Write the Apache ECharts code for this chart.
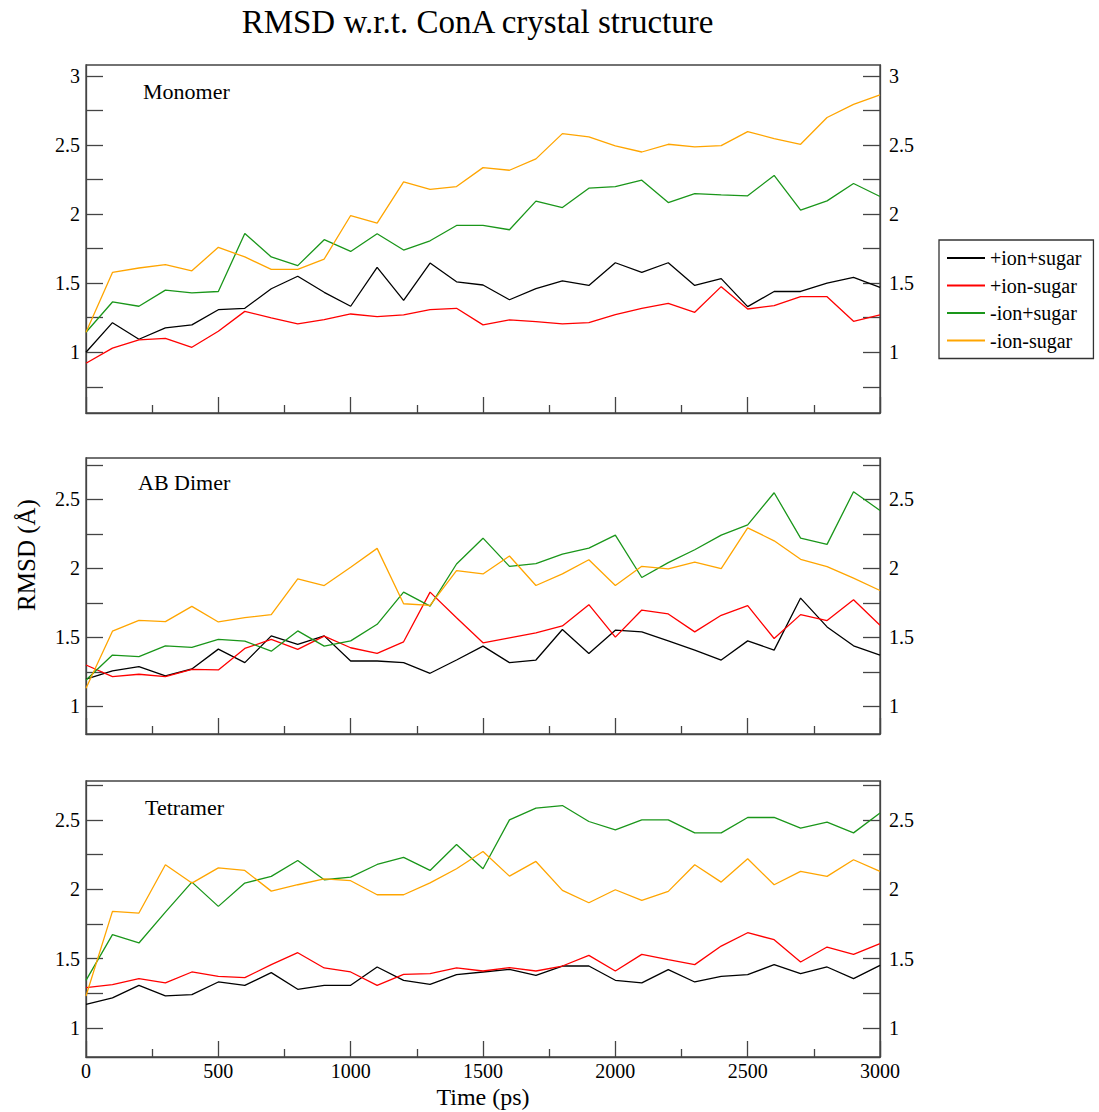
<!DOCTYPE html>
<html>
<head>
<meta charset="utf-8">
<script src="https://cdn.jsdelivr.net/npm/echarts@6/dist/echarts.min.js"></script>
<style>
html,body{margin:0;padding:0;background:#fff;}
#chart{width:1099px;height:1112px;}
</style>
</head>
<body>
<div id="chart"></div>
<script>
// ---- data ----
const time = [0,100,200,300,400,500,600,700,800,900,1000,1100,1200,1300,1400,1500,1600,1700,1800,1900,2000,2100,2200,2300,2400,2500,2600,2700,2800,2900,3000];
const seriesNames = ['+ion+sugar','+ion-sugar','-ion+sugar','-ion-sugar'];
const panelNames = ['Monomer','AB Dimer','Tetramer'];

const monomerIonSugar   = [1.0,1.214,1.094,1.176,1.198,1.308,1.318,1.46,1.55,1.434,1.333,1.614,1.376,1.646,1.51,1.487,1.38,1.46,1.516,1.484,1.648,1.578,1.648,1.484,1.533,1.33,1.44,1.44,1.50,1.542,1.47];
const monomerIonNoSugar = [0.92,1.03,1.09,1.10,1.036,1.152,1.296,1.248,1.205,1.236,1.277,1.258,1.27,1.308,1.318,1.198,1.234,1.222,1.205,1.214,1.272,1.318,1.354,1.289,1.475,1.313,1.337,1.402,1.402,1.224,1.27];
const monomerNoIonSugar = [1.145,1.364,1.333,1.45,1.43,1.44,1.86,1.69,1.627,1.815,1.73,1.858,1.74,1.807,1.918,1.918,1.887,2.094,2.048,2.188,2.20,2.246,2.084,2.149,2.14,2.133,2.28,2.029,2.096,2.222,2.128];
const monomerNoIonNoSugar = [1.145,1.578,1.61,1.634,1.59,1.76,1.69,1.60,1.60,1.675,1.99,1.935,2.234,2.18,2.20,2.337,2.318,2.40,2.583,2.56,2.494,2.45,2.506,2.487,2.496,2.598,2.547,2.506,2.70,2.795,2.863];

const dimerIonSugar   = [1.197,1.257,1.288,1.221,1.271,1.415,1.317,1.511,1.449,1.511,1.329,1.329,1.317,1.24,1.336,1.437,1.317,1.336,1.557,1.384,1.552,1.54,1.475,1.408,1.336,1.475,1.408,1.785,1.576,1.439,1.372];
const dimerIonNoSugar = [1.30,1.216,1.233,1.216,1.269,1.264,1.42,1.485,1.413,1.509,1.425,1.384,1.468,1.828,1.643,1.461,1.497,1.533,1.583,1.737,1.502,1.698,1.67,1.54,1.66,1.73,1.492,1.665,1.622,1.773,1.588];
const dimerNoIonSugar = [1.192,1.372,1.36,1.439,1.427,1.485,1.473,1.40,1.547,1.437,1.475,1.595,1.828,1.727,2.032,2.219,2.015,2.034,2.104,2.147,2.241,1.934,2.042,2.135,2.241,2.315,2.548,2.219,2.174,2.555,2.42];
const dimerNoIonNoSugar = [1.132,1.545,1.624,1.614,1.725,1.612,1.643,1.665,1.924,1.876,2.008,2.145,1.744,1.732,1.984,1.96,2.09,1.876,1.96,2.063,1.876,2.015,1.996,2.046,1.998,2.294,2.2,2.066,2.013,1.929,1.84];

const tetramerIonSugar   = [1.17,1.216,1.307,1.23,1.24,1.331,1.307,1.398,1.278,1.307,1.307,1.439,1.343,1.314,1.384,1.403,1.422,1.379,1.446,1.446,1.343,1.324,1.42,1.331,1.372,1.384,1.456,1.391,1.439,1.355,1.451];
const tetramerIonNoSugar = [1.29,1.312,1.355,1.324,1.403,1.372,1.362,1.456,1.542,1.432,1.403,1.307,1.386,1.391,1.432,1.41,1.434,1.41,1.446,1.523,1.41,1.53,1.492,1.456,1.59,1.686,1.636,1.475,1.583,1.53,1.607];
const tetramerNoIonSugar = [1.343,1.672,1.612,1.835,2.051,1.876,2.044,2.092,2.207,2.068,2.087,2.178,2.229,2.135,2.322,2.147,2.50,2.584,2.603,2.488,2.428,2.50,2.50,2.406,2.406,2.517,2.517,2.44,2.483,2.406,2.55];
const tetramerNoIonNoSugar = [1.23,1.84,1.828,2.176,2.044,2.154,2.135,1.986,2.032,2.075,2.061,1.96,1.96,2.046,2.147,2.272,2.094,2.20,1.991,1.902,1.996,1.919,1.984,2.176,2.051,2.219,2.032,2.128,2.092,2.212,2.128];

const monomerTicks = [0.75,1,1.25,1.5,1.75,2,2.25,2.5,2.75,3];
const monomerLabels = [1,1.5,2,2.5,3];
const lowerTicks = [1,1.25,1.5,1.75,2,2.25,2.5,2.75];
const lowerLabels = [1,1.5,2,2.5];
const xTickLabels = [0,500,1000,1500,2000,2500,3000];

// ---- layout / style ----
const FONT = 'Liberation Serif';
const colors = ['#000000','#ff0000','#1a961a','#ffa500'];
const panels = [
  {data:[monomerIonSugar,monomerIonNoSugar,monomerNoIonSugar,monomerNoIonNoSugar], top:65, height:348, min:0.56, max:3.08, ticks:monomerTicks, labels:monomerLabels, labelY:92},
  {data:[dimerIonSugar,dimerIonNoSugar,dimerNoIonSugar,dimerNoIonNoSugar], top:458, height:276, min:0.8, max:2.8, ticks:lowerTicks, labels:lowerLabels, labelY:483},
  {data:[tetramerIonSugar,tetramerIonNoSugar,tetramerNoIonSugar,tetramerNoIonNoSugar], top:781, height:276, min:0.79, max:2.78, ticks:lowerTicks, labels:lowerLabels, labelY:808}
];
const labelX = [143,138,145];
const plain = v => String(v);

const grids = [], xAxes = [], yAxes = [], series = [], graphics = [];
panels.forEach((p, i) => {
  grids.push({left:86, top:p.top, width:794, height:p.height, show:true, borderColor:'#444', borderWidth:1.3, backgroundColor:'transparent', containLabel:false});
  xAxes.push({
    type:'value', gridIndex:i, min:0, max:3000, interval:500,
    axisLine:{show:true, lineStyle:{color:'#444', width:1.3}},
    axisTick:{show:true, inside:true, length:16, lineStyle:{color:'#444', width:1.3}},
    minorTick:{show:true, splitNumber:2, length:8, lineStyle:{color:'#444', width:1.3}},
    axisLabel:{show:i===2, margin:4, fontFamily:FONT, fontSize:20, color:'#000', customValues: xTickLabels, formatter: plain},
    splitLine:{show:false}, minorSplitLine:{show:false}
  });
  ['left','right'].forEach(pos => {
    yAxes.push({
      type:'value', gridIndex:i, position:pos, min:p.min, max:p.max,
      axisLine:{show:true, lineStyle:{color:'#444', width:1.3}},
      axisTick:{show:true, inside:true, length:17, customValues:p.ticks, lineStyle:{color:'#444', width:1.3}},
      axisLabel:{show:true, margin: pos==='left'?6:9, customValues:p.labels, fontFamily:FONT, fontSize:20, color:'#000', formatter: plain},
      splitLine:{show:false}
    });
  });
  p.data.forEach((arr, j) => {
    series.push({
      type:'line', name:seriesNames[j], xAxisIndex:i, yAxisIndex:i*2,
      data: time.map((t,k)=>[t, arr[k]]),
      symbol:'none', showSymbol:false, silent:true, animation:false,
      lineStyle:{color:colors[j], width:1.3}, itemStyle:{color:colors[j]}, z: 2 + j
    });
  });
  graphics.push({type:'text', left:labelX[i], top:p.labelY - 12, style:{text:panelNames[i], font:'22px "Liberation Serif"', fill:'#000'}});
});

graphics.push({type:'text', x:477.5, y:22, style:{text:'RMSD w.r.t. ConA crystal structure', font:'33px "Liberation Serif"', fill:'#000', align:'center', verticalAlign:'middle'}});
graphics.push({type:'text', x:483, y:1097, style:{text:'Time (ps)', font:'24px "Liberation Serif"', fill:'#000', align:'center', verticalAlign:'middle'}});
graphics.push({type:'text', x:26, y:555, rotation:Math.PI/2, style:{text:'RMSD (Å)', font:'25px "Liberation Serif"', fill:'#000', align:'center', verticalAlign:'middle'}});

const chart = echarts.init(document.getElementById('chart'), null, {renderer:'svg'});
chart.setOption({
  animation:false,
  backgroundColor:'#fff',
  grid:grids, xAxis:xAxes, yAxis:yAxes, series:series,
  legend:{
    data:seriesNames.map(n => ({name:n, icon:'rect'})), orient:'vertical', left:939, top:240,
    padding:[8,12,8,8], itemWidth:38, itemHeight:2, itemGap:7.5,
    borderColor:'#333', borderWidth:1.3, backgroundColor:'#fff',
    selectedMode:false,
    textStyle:{fontFamily:FONT, fontSize:20, color:'#000', lineHeight:20}
  },
  graphic:graphics
});
</script>
</body>
</html>
